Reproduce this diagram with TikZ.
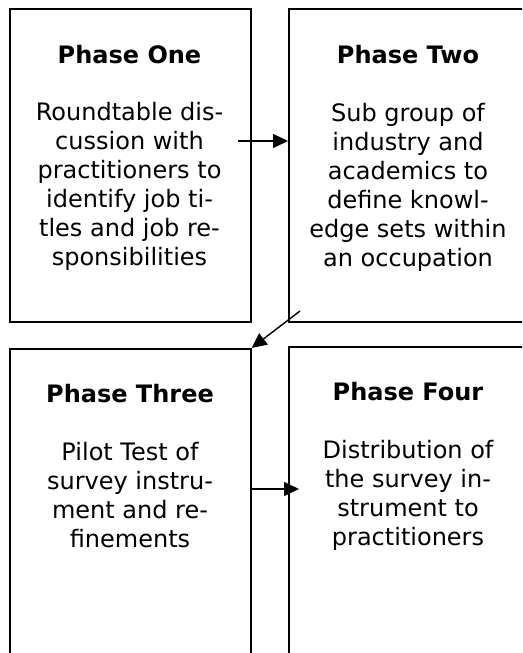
\documentclass[tikz,border=0pt]{standalone}
\usepackage{fontspec}
\setmainfont{DejaVu Sans}
\usetikzlibrary{arrows.meta}

\begin{document}
\begin{tikzpicture}[x=1pt, y=-1pt, font=\fontsize{24}{29}\selectfont,
    phase/.style={draw, line width=1.6pt, anchor=north west, inner sep=0pt,
        minimum width=241pt, minimum height=313pt},
    head/.style={font=\fontsize{24}{29}\selectfont\bfseries, anchor=base},
    txt/.style={anchor=base, inner sep=0pt},
    link/.style={line width=1.4pt, -{Triangle[length=15pt, width=14pt]}}]
    \useasboundingbox (0,0) rectangle (522,653);
    \clip (0,0) rectangle (522,653);

    % Phase boxes (right and lower ones run off the page)
    \node[phase] (p1) at (9,8) {};
    \node[phase, minimum width=240pt] (p2) at (288,8) {};
    \node[phase, minimum height=330pt] (p3) at (9,348) {};
    \node[phase, minimum width=240pt, minimum height=330pt] (p4) at (288,346) {};

    % Titles
    \node[head] (t1) at (129.5,63) {Phase One};
    \node[head] (t2) at (408,63) {Phase Two};
    \node[head] (t3) at (130,402) {Phase Three};
    \node[head] (t4) at (408,400) {Phase Four};

    % Body text, one baseline every 29pt
    \foreach \txt [count=\i] in {Roundtable dis-, cussion with, practitioners to,
        identify job ti-, tles and job re-, sponsibilities}
        \node[txt] (b1l\i) at (129.5, 91+29*\i) {\txt};
    \foreach \txt [count=\i] in {Sub group of, industry and, academics to,
        define knowl-, edge sets within, an occupation}
        \node[txt] (b2l\i) at (408, 92+29*\i) {\txt};
    \foreach \txt [count=\i] in {Pilot Test of, survey instru-, ment and re-, finements}
        \node[txt] (b3l\i) at (130, 431+29*\i) {\txt};
    \foreach \txt [count=\i] in {Distribution of, the survey in-, strument to, practitioners}
        \node[txt] (b4l\i) at (408, 429+29*\i) {\txt};

    % Arrows
    \coordinate (a1) at (238,141);
    \draw[link] (a1) -- (a1 -| p2.west);
    \coordinate (a2) at (300,311);
    \draw[link] (a2) -- (p3.north east);
    \coordinate (a3) at (250,489);
    \draw[link] (p3.east |- a3) -- ([xshift=11pt]p4.west |- a3);
\end{tikzpicture}
\end{document}
